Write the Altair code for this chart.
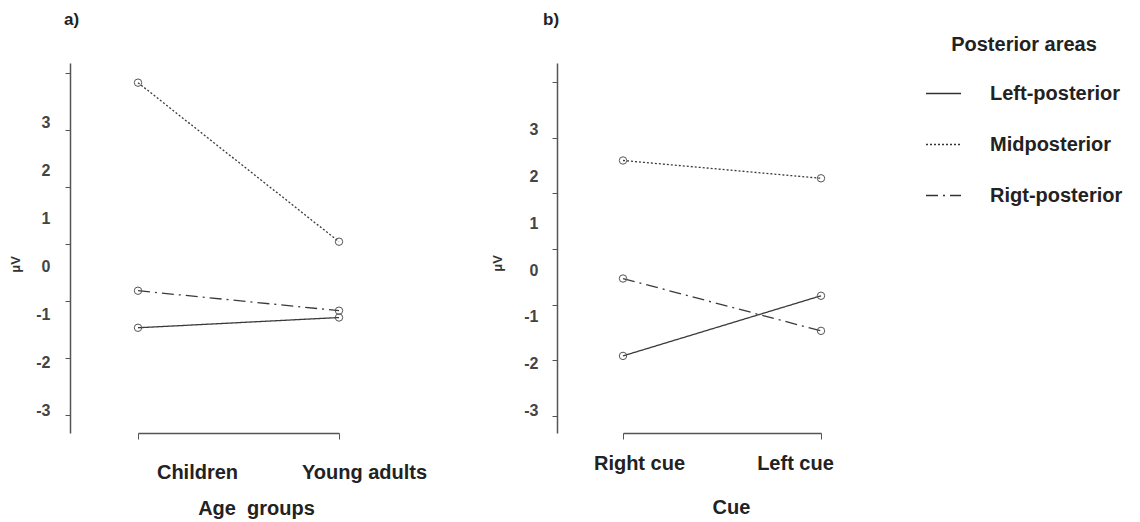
import altair as alt
import pandas as pd

series = ["Left-posterior", "Midposterior", "Rigt-posterior"]
age_groups = ["Children", "Young adults"]
cues = ["Right cue", "Left cue"]

# panel a) values (µV), in the order of age_groups
a_left = [-1.47, -1.29]
a_mid = [2.83, 0.04]
a_rigt = [-0.82, -1.17]

# panel b) values (µV), in the order of cues
b_left = [-1.92, -0.84]
b_mid = [1.59, 1.27]
b_rigt = [-0.53, -1.47]

y_ticks = [-3, -2, -1, 0, 1, 2, 3]

FONT = "Liberation Sans, Arial, sans-serif"


def make_df(cats, left, mid, rigt):
    rows = []
    for name, vals in zip(series, [left, mid, rigt]):
        for c, v in zip(cats, vals):
            rows.append({"cat": c, "series": name, "value": v})
    return pd.DataFrame(rows)


legend = alt.Legend(
    title="Posterior areas", orient="none", legendX=855, legendY=-28,
    symbolType="stroke", symbolSize=1225, symbolStrokeWidth=1.5,
    symbolStrokeColor="#333", labelOffset=28, rowPadding=22,
    titlePadding=20, titleAnchor="middle",
    labelFont=FONT, labelFontSize=20, labelFontWeight="bold", labelColor="#222",
    titleFont=FONT, titleFontSize=20, titleFontWeight="bold", titleColor="#222",
)

dash_scale = alt.Scale(domain=series, range=[[1, 0], [2, 2], [12, 5, 2, 5]])


def panel(df, cats, title, title_dx, xtitle, width, xrange, ydomain,
          xlab_expr, ylab_expr, xlab_pad, ylab_pad, xt, yt):
    x = alt.X(
        "cat:N", sort=cats,
        scale=alt.Scale(type="point", range=xrange, padding=0),
        axis=alt.Axis(
            title=xtitle, labelAngle=0, tickSize=6,
            labelOffset=alt.ExprRef(expr=xlab_expr), labelPadding=xlab_pad,
            labelBaseline="middle", labelFontSize=20, labelColor="#222",
            titleX=xt[0], titleY=xt[1], titleBaseline="middle", titleAlign="center",
            titleFontSize=20,
        ),
    )
    y = alt.Y(
        "value:Q",
        scale=alt.Scale(domain=ydomain, nice=False, zero=False),
        axis=alt.Axis(
            values=y_ticks, title="μV", tickSize=5,
            labelExpr="toString(datum.value)",
            labelOffset=alt.ExprRef(expr=ylab_expr), labelPadding=ylab_pad,
            labelBaseline="middle", labelFontSize=16, labelColor="#444",
            labelOverlap=False, labelFlush=False,
            titleX=yt[0], titleY=yt[1], titleBaseline="middle", titleAlign="center",
            titleFontSize=13, titleColor="#333",
        ),
    )
    base = alt.Chart(df)
    lines = base.mark_line(color="#3a3a3a", strokeWidth=1.3).encode(
        x=x, y=y,
        strokeDash=alt.StrokeDash("series:N", sort=series, scale=dash_scale, legend=legend),
    )
    pts = base.mark_point(shape="circle", filled=False, size=55, color="#555",
                          strokeWidth=1, opacity=1).encode(x=x, y=y, detail="series:N")
    return alt.layer(lines, pts).properties(
        width=width, height=370,
        title=alt.TitleParams(title, anchor="start", frame="group", dx=title_dx,
                              offset=26, baseline="middle", fontSize=17,
                              fontWeight="bold", color="#222", font=FONT),
    )


left_chart = panel(
    make_df(age_groups, a_left, a_mid, a_rigt), age_groups, "a)", -6,
    "Age\u00a0 groups", 315, [68, 269], [-3.316, 3.175],
    f"datum.value == '{age_groups[0]}' ? 59 : 25", "23 + 9*datum.value",
    33, 15, (186, 75), (-55, 201),
)
right_chart = panel(
    make_df(cues, b_left, b_mid, b_rigt), cues, "b)", -14,
    "Cue", 303, [66, 264], [-3.305, 3.341],
    f"datum.value == '{cues[0]}' ? 16 : -26", "21 + 9*datum.value",
    24, 14, (174, 74), (-60, 200),
)

chart = alt.hconcat(left_chart, right_chart, spacing=172, bounds="flush").resolve_scale(
    strokeDash="shared"
).properties(
    autosize=alt.AutoSizeParams(type="none"),
    padding={"left": 70, "top": 63, "right": 1070, "bottom": 459},
).configure_view(stroke="transparent").configure_axis(
    grid=False, domainColor="#555", domainWidth=1.5, tickColor="#555", tickWidth=1,
    labelFont=FONT, titleFont=FONT, labelFontWeight="bold", titleFontWeight="bold",
    titleColor="#222",
)

chart.save("out.html", embed_options={"renderer": "svg", "actions": False})
